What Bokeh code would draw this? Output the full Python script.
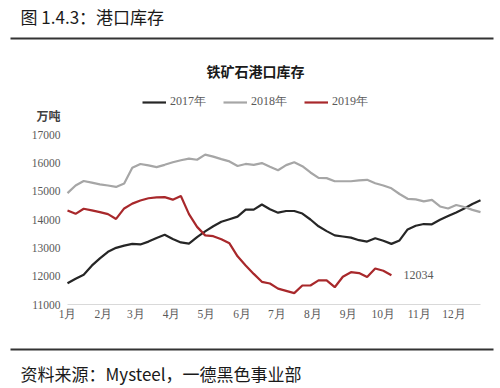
from bokeh.plotting import figure
from bokeh.models import (Range1d, Label, Legend, LegendItem, BoxAnnotation,
                          ColumnDataSource)
from bokeh.core.properties import value
from bokeh.embed import file_html
from bokeh.resources import INLINE

# ---- data (weekly; 万吨) ----
month_labels = ["1月", "2月", "3月", "4月", "5月", "6月",
                "7月", "8月", "9月", "10月", "11月", "12月"]
month_start_day = [0, 31, 59, 90, 120, 151, 181, 212, 243, 273, 304, 334]

y2017 = [11750, 11910, 12050, 12370, 12630, 12860, 13000, 13080, 13140, 13120,
         13220, 13350, 13460, 13310, 13190, 13150, 13380, 13580, 13760, 13920,
         14010, 14100, 14350, 14350, 14530, 14360, 14240, 14300, 14300, 14210,
         14000, 13760, 13590, 13440, 13400, 13360, 13270, 13220, 13340, 13250,
         13140, 13260, 13650, 13780, 13840, 13830, 13990, 14120, 14250, 14390,
         14550, 14680]
y2018 = [14930, 15200, 15360, 15300, 15240, 15200, 15150, 15270, 15830, 15960,
         15910, 15850, 15930, 16020, 16090, 16150, 16110, 16290, 16220, 16130,
         16050, 15890, 15960, 15930, 15990, 15860, 15740, 15920, 16020, 15880,
         15660, 15470, 15460, 15350, 15350, 15350, 15380, 15400, 15280, 15200,
         15100, 14900, 14730, 14710, 14640, 14690, 14460, 14390, 14510, 14440,
         14340, 14260]
y2019 = [14320, 14200, 14380, 14320, 14260, 14190, 14020, 14390, 14560, 14670,
         14750, 14780, 14790, 14700, 14830, 14190, 13740, 13440, 13410, 13300,
         13160, 12700, 12380, 12080, 11800, 11740, 11560, 11480, 11400, 11670,
         11670, 11850, 11850, 11610, 11980, 12140, 12110, 11970, 12270, 12190,
         12034]
y_ticks = [11000, 12000, 13000, 14000, 15000, 16000, 17000]
y_tick_labels = [str(t) for t in y_ticks]

days17 = [7 * i for i in range(len(y2017))]
days18 = [7 * i for i in range(len(y2018))]
days19 = [7 * i for i in range(len(y2019))]

X_MIN, X_MAX = 0, 357          # chart area, days
Y_MIN, Y_MAX = 11000, 17000    # chart area, 万吨

# ---- canvas geometry: whole canvas is the frame ----
W, H = 500, 388
PL, PR, PT, PB = 67, 480, 134, 304   # chart area in canvas px
sx = (X_MAX - X_MIN) / (PR - PL)
sy = (Y_MAX - Y_MIN) / (PB - PT)
x_range = Range1d(X_MIN - PL * sx, X_MAX + (W - PR) * sx)
y_range = Range1d(Y_MIN - (H - PB) * sy, Y_MAX + PT * sy)

CJK = "Noto Sans CJK SC"
SERIF = "Liberation Serif"
GREY_TXT = "#595959"

p = figure(width=W, height=H, output_backend="svg", toolbar_location=None,
           x_range=x_range, y_range=y_range, min_border=0,
           x_axis_type=None, y_axis_type=None)
p.outline_line_color = None
p.grid.visible = False
p.background_fill_color = "white"
p.border_fill_color = "white"

# x axis line
p.line([X_MIN, X_MAX], [Y_MIN, Y_MIN], line_color="#d9d9d9", line_width=1)

r17 = p.line(days17, y2017, line_color="#262626", line_width=2.2)
r18 = p.line(days18, y2018, line_color="#a6a6a6", line_width=2.2)
r19 = p.line(days19, y2019, line_color="#a8282b", line_width=2.2)

# tick labels
xsrc = ColumnDataSource(dict(x=month_start_day, y=[Y_MIN] * len(month_start_day),
                             t=month_labels))
p.text(x="x", y="y", text="t", source=xsrc, text_align="center",
       text_baseline="top", y_offset=3, text_font=value(SERIF),
       text_font_size="11.5px", text_color=GREY_TXT)
ysrc = ColumnDataSource(dict(x=[X_MIN] * len(y_ticks), y=y_ticks, t=y_tick_labels))
p.text(x="x", y="y", text="t", source=ysrc, text_align="right",
       text_baseline="middle", x_offset=-7, text_font=value(SERIF),
       text_font_size="11.5px", text_color=GREY_TXT)

# legend
legend = Legend(items=[LegendItem(label="2017年", renderers=[r17]),
                       LegendItem(label="2018年", renderers=[r18]),
                       LegendItem(label="2019年", renderers=[r19])],
                location=(142, 278), orientation="horizontal",
                padding=0, margin=0, spacing=17, label_standoff=4,
                glyph_width=24, glyph_height=12,
                border_line_color=None, background_fill_alpha=0,
                label_text_font=SERIF, label_text_font_size="12px",
                label_text_color=GREY_TXT)
p.add_layout(legend, "center")

# last value label
p.add_layout(Label(x=days19[-1], y=y2019[-1], text=str(y2019[-1]),
                   x_offset=12, text_baseline="middle",
                   text_font=SERIF, text_font_size="12px",
                   text_color=GREY_TXT))

# texts outside chart area (screen px from canvas bottom-left)
p.add_layout(Label(x=20, y=372.5, x_units="screen", y_units="screen",
                   text="图 1.4.3：港口库存", text_font=CJK,
                   text_font_size="17px", text_baseline="middle",
                   text_color="#1a1a1a"))
p.add_layout(Label(x=255, y=318, x_units="screen", y_units="screen",
                   text="铁矿石港口库存", text_font=CJK, text_font_style="bold",
                   text_font_size="14px", text_baseline="middle",
                   text_align="center", text_color="#1a1a1a"))
p.add_layout(Label(x=36, y=273, x_units="screen", y_units="screen",
                   text="万吨", text_font=CJK, text_font_style="bold",
                   text_font_size="12px", text_baseline="middle",
                   text_color="#404040"))
p.add_layout(Label(x=20, y=15, x_units="screen", y_units="screen",
                   text="资料来源：Mysteel，一德黑色事业部", text_font=CJK,
                   text_font_size="17px", text_baseline="middle",
                   text_color="#1a1a1a"))

# horizontal rules
p.add_layout(BoxAnnotation(left=10, right=493, bottom=349, top=351,
                           left_units="screen", right_units="screen",
                           top_units="screen", bottom_units="screen",
                           fill_color="#333333", fill_alpha=1, line_color=None))
p.add_layout(BoxAnnotation(left=10, right=493, bottom=38, top=40,
                           left_units="screen", right_units="screen",
                           top_units="screen", bottom_units="screen",
                           fill_color="#333333", fill_alpha=1, line_color=None))

open("out.html", "w").write(file_html(p, INLINE))
